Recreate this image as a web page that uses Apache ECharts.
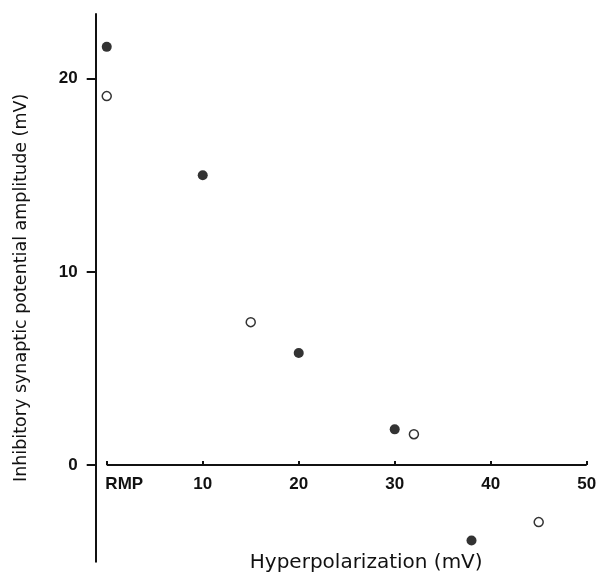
<!DOCTYPE html>
<html>
<head>
<meta charset="utf-8">
<script src="https://cdn.jsdelivr.net/npm/echarts@6/dist/echarts.min.js"></script>
<style>
  html, body { margin: 0; padding: 0; background: #fff; }
  #chart { width: 600px; height: 573px; }
</style>
</head>
<body>
<div id="chart"></div>
<script>
// tick values
const xTicks = [0, 10, 20, 30, 40, 50];
const yTicks = [0, 10, 20];
// hyperpolarization (mV) vs IPSP amplitude (mV)
const filledPts = [[0, 21.65], [10, 15.0], [20, 5.8], [30, 1.85], [38, -3.9]];
const openPts = [[0, 19.1], [15, 7.4], [32, 1.6], [45, -2.95]];

const yMin = -5, yMax = 23.35;
const gridTop = 14, gridHeight = 547.7;
// pull the x axis up from the grid bottom to the zero line
const xAxisOffset = -gridHeight * (0 - yMin) / (yMax - yMin);

const chart = echarts.init(document.getElementById('chart'));

const tickFont = { fontFamily: 'Liberation Sans', fontSize: 17, fontWeight: 'bold', color: '#111' };

const option = {
  backgroundColor: '#fff',
  animation: false,
  grid: {
    left: 95.7,
    top: gridTop,
    width: 491,
    height: gridHeight,
    outerBoundsMode: 'none'
  },
  xAxis: {
    type: 'value',
    min: -1.15,
    max: 50,
    offset: xAxisOffset,
    splitLine: { show: false },
    axisLine: { show: true, onZero: false, lineStyle: { color: 'rgba(0,0,0,0)' } },
    axisTick: {
      show: true,
      inside: true,
      length: 4,
      customValues: xTicks,
      lineStyle: { color: '#111', width: 2 }
    },
    axisLabel: {
      show: true,
      customValues: xTicks,
      margin: 11,
      ...tickFont,
      formatter: v => (v === 0 ? '{rmp|RMP}' : String(v)),
      rich: {
        rmp: { ...tickFont, padding: [0, 0, 0, 35] }
      }
    },
    name: 'Hyperpolarization (mV)',
    nameLocation: 'middle',
    nameGap: 88,
    nameTextStyle: {
      fontFamily: 'DejaVu Sans',
      fontSize: 20,
      color: '#111',
      padding: [0, 0, 0, 50]
    }
  },
  yAxis: {
    type: 'value',
    min: yMin,
    max: yMax,
    splitLine: { show: false },
    axisLine: { show: true, onZero: false, lineStyle: { color: '#111', width: 2 } },
    axisTick: {
      show: true,
      length: 9,
      customValues: yTicks,
      lineStyle: { color: '#111', width: 2 }
    },
    axisLabel: {
      customValues: yTicks,
      margin: 18,
      ...tickFont
    },
    name: 'Inhibitory synaptic potential amplitude (mV)',
    nameLocation: 'middle',
    nameGap: 65,
    nameTextStyle: {
      fontFamily: 'DejaVu Sans',
      fontSize: 17.5,
      color: '#111'
    }
  },
  series: [
    {
      // visible part of the x axis, from RMP to 50 mV
      type: 'line',
      data: [[xTicks[0], 0], [xTicks[xTicks.length - 1], 0]],
      showSymbol: false,
      silent: true,
      lineStyle: { color: '#111', width: 2 },
      z: 1
    },
    {
      name: 'filled',
      type: 'scatter',
      data: filledPts,
      symbol: 'circle',
      symbolSize: 10,
      itemStyle: { color: '#000' }
    },
    {
      name: 'open',
      type: 'scatter',
      data: openPts,
      symbol: 'circle',
      symbolSize: 9,
      itemStyle: { color: '#fff', borderColor: '#000', borderWidth: 1.5 }
    }
  ]
};

chart.setOption(option);
window.addEventListener('resize', () => chart.resize());
</script>
</body>
</html>
